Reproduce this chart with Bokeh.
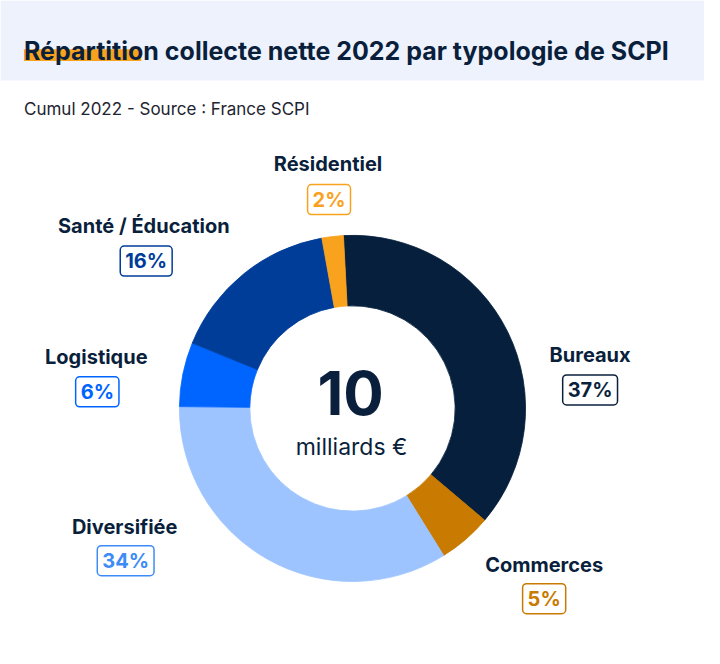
import numpy as np
from bokeh.plotting import figure
from bokeh.models import Range1d, ColumnDataSource
from bokeh.core.properties import value
from bokeh.embed import file_html
from bokeh.resources import INLINE

# ---------------- data ----------------
categories = ["Bureaux", "Commerces", "Diversifiée", "Logistique", "Santé /  Éducation", "Résidentiel"]
shares = [37, 5, 34, 6, 16, 2]
pct_labels = ["37%", "5%", "34%", "6%", "16%", "2%"]
total_label = "10"
total_unit = "milliards €"
title_text = "Répartition collecte nette 2022 par typologie de SCPI"
subtitle_text = "Cumul 2022 - Source : France SCPI"

# ---------------- styles / layout ----------------
slice_colors = ["#051F3C", "#C97A00", "#9DC4FF", "#0065FF", "#003D99", "#F9A21E"]
pct_colors = ["#0A1F3C", "#C97A00", "#3D8BF6", "#0065FF", "#003D99", "#F9A21E"]
NAVY = "#0A1F3C"
W, H = 704, 648
SX, SY = W / 720.0, H / 664.0


def X(rx):
    return rx * SX


def Y(ry):
    return H - ry * SY


# label positions (reference pixel coordinates)
label_xy = [(603, 363), (556, 578), (127, 539), (98, 365), (149, 231), (335, 168)]
box_xy = [(603, 399), (556, 613), (128, 574), (99, 401), (149, 267), (336, 204)]

cx, cy = X(360), Y(418)
r_in, r_out = 105 * SX, 177 * SX
start_offset = -3.0  # degrees, clockwise from 12 o'clock

p = figure(width=W, height=H, x_range=Range1d(0, W), y_range=Range1d(0, H),
           x_axis_type=None, y_axis_type=None, toolbar_location=None,
           output_backend="svg", min_border=0)
p.outline_line_color = None
p.background_fill_color = "white"
p.border_fill_color = "white"
p.grid.visible = False

# header band
p.quad(left=[0], right=[W], top=[H], bottom=[Y(82)], fill_color="#EEF2FD", line_color=None)
# orange highlight under the first word
p.quad(left=[X(24)], right=[X(144)], top=[Y(50)], bottom=[Y(62)], fill_color="#F9A21E", line_color=None)
p.text(x=[X(24)], y=[Y(52)], text=[title_text], text_font=value("Inter"), text_font_style="bold",
       text_font_size="25px", text_color=NAVY, text_align="left", text_baseline="alphabetic")
p.text(x=[X(24)], y=[Y(111)], text=[subtitle_text], text_font=value("Inter"),
       text_font_size="17px", text_color="#1E2430", text_align="left", text_baseline="middle")

# donut
vals = np.array(shares, dtype=float)
frac = vals / vals.sum() * 360.0
theta_end = start_offset + np.cumsum(frac)
theta_start = theta_end - frac
src = ColumnDataSource(dict(
    start=np.radians(90 - theta_end),
    end=np.radians(90 - theta_start),
    color=slice_colors,
))
p.annular_wedge(x=cx, y=cy, inner_radius=r_in, outer_radius=r_out,
                start_angle="start", end_angle="end", direction="anticlock",
                fill_color="color", line_color="color", line_width=0.8, source=src)

# centre text
p.text(x=[X(358)], y=[Y(402)], text=[total_label], text_font=value("Inter"), text_font_style="bold",
       text_font_size="60px", text_color=NAVY, text_align="center", text_baseline="middle")
p.text(x=[X(359)], y=[Y(458)], text=[total_unit], text_font=value("Inter"),
       text_font_size="23px", text_color=NAVY, text_align="center", text_baseline="middle")

# category labels
lab_src = ColumnDataSource(dict(
    x=[X(a) for a, b in label_xy], y=[Y(b) for a, b in label_xy], text=categories))
p.text(x="x", y="y", text="text", source=lab_src, text_font=value("Inter"), text_font_style="bold",
       text_font_size="20px", text_color=NAVY, text_align="center", text_baseline="middle")

# percentage boxes
box_src = ColumnDataSource(dict(
    x=[X(a) for a, b in box_xy], y=[Y(b) for a, b in box_xy], text=pct_labels, color=pct_colors))
p.text(x="x", y="y", text="text", source=box_src, text_font=value("Inter"), text_font_style="bold",
       text_font_size="20px", text_color="color", text_align="center", text_baseline="middle",
       background_fill_color="white", border_line_color="color", border_line_width=1.5,
       padding=dict(left=5, right=5, top=3, bottom=3), border_radius=4)

open("out.html", "w").write(file_html(p, INLINE))
